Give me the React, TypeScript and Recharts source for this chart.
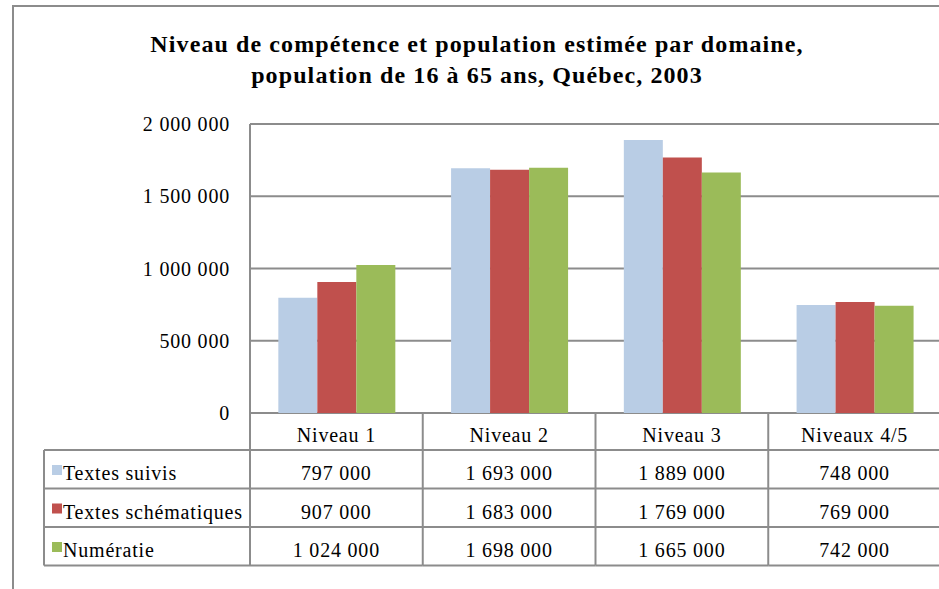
import React from "react";
import { BarChart, Bar, XAxis, YAxis, CartesianGrid } from "recharts";

// --- Data ---
const categories = ["Niveau 1", "Niveau 2", "Niveau 3", "Niveaux 4/5"];
const textesSuivis = [797000, 1693000, 1889000, 748000];
const textesSchematiques = [907000, 1683000, 1769000, 769000];
const numeratie = [1024000, 1698000, 1665000, 742000];
const seriesNames = ["Textes suivis", "Textes schématiques", "Numératie"];
const seriesColors = ["#B9CDE5", "#C0504D", "#9BBB59"];
const yTicks = [0, 500000, 1000000, 1500000, 2000000];

const data = categories.map((c, i) => ({
  cat: c,
  s0: textesSuivis[i],
  s1: textesSchematiques[i],
  s2: numeratie[i],
}));
const seriesValues = [textesSuivis, textesSchematiques, numeratie];

// --- Layout ---
const W = 960;
const H = 589;
const LEFT = 250;
const RIGHT = 19;
const TOP = 124;
const XH = 176;
const BAND = (W - LEFT - RIGHT) / categories.length;
const ROW0 = 37; // category row height
const ROW = 38.5;
const GRAY = "#8c8c8c";
const FONT = "Liberation Serif";

const fmt = (v: number) => String(v).replace(/\B(?=(\d{3})+(?!\d))/g, " ");

// table column drawn as the x axis tick
function TableTick(props: any) {
  const { x, y, payload } = props;
  const i = payload.index;
  const x0 = x - BAND / 2;
  const x1 = x + BAND / 2;
  const rows = [y + ROW0, y + ROW0 + ROW, y + ROW0 + 2 * ROW, y + ROW0 + 3 * ROW];
  const txt = { fontFamily: FONT, fontSize: 20, letterSpacing: 0.8, fill: "#000" };
  return (
    <g>
      <line x1={x1} x2={x1} y1={y} y2={rows[3]} stroke={GRAY} strokeWidth={2} />
      {i === 0 && <line x1={x0} x2={x0} y1={y} y2={rows[3]} stroke={GRAY} strokeWidth={2} />}
      {rows.map((ry, k) => (
        <line key={k} x1={x0} x2={x1} y1={ry} y2={ry} stroke={GRAY} strokeWidth={2} />
      ))}
      <text x={x} y={y + 29} textAnchor="middle" {...txt}>
        {payload.value}
      </text>
      {seriesValues.map((vals, k) => (
        <text key={k} x={x} y={rows[k] + 30} textAnchor="middle" {...txt}>
          {fmt(vals[i])}
        </text>
      ))}
      {i === 0 && (
        <g>
          <line x1={44} x2={44} y1={rows[0]} y2={rows[3]} stroke={GRAY} strokeWidth={2} />
          {rows.map((ry, k) => (
            <line key={k} x1={44} x2={x0} y1={ry} y2={ry} stroke={GRAY} strokeWidth={2} />
          ))}
          {seriesNames.map((n, k) => (
            <g key={n}>
              <rect x={52} y={rows[k] + 15} width={10} height={10} fill={seriesColors[k]} />
              <text x={63} y={rows[k] + 30} {...txt}>
                {n}
              </text>
            </g>
          ))}
        </g>
      )}
    </g>
  );
}

export default function App() {
  return (
    <div
      style={{
        position: "absolute",
        left: 0,
        top: 0,
        width: 939,
        height: 589,
        overflow: "hidden",
        background: "#fff",
      }}
    >
      <BarChart
        width={W}
        height={H}
        data={data}
        margin={{ top: TOP, right: RIGHT, left: 0, bottom: 0 }}
        barCategoryGap="16.4%"
        barGap={0}
      >
        <CartesianGrid vertical={false} stroke={GRAY} strokeWidth={2} />
        <XAxis
          dataKey="cat"
          height={XH}
          axisLine={false}
          tickLine={false}
          tickSize={0}
          tickMargin={0}
          interval={0}
          tick={<TableTick />}
        />
        <YAxis
          width={LEFT}
          domain={[0, 2000000]}
          ticks={yTicks}
          tickFormatter={fmt}
          axisLine={{ stroke: GRAY, strokeWidth: 2 }}
          tickLine={false}
          tickSize={0}
          tickMargin={20}
          tick={{ fontFamily: FONT, fontSize: 20, fill: "#000", letterSpacing: 0.8 }}
        />
        <Bar dataKey="s0" name={seriesNames[0]} fill={seriesColors[0]} isAnimationActive={false} />
        <Bar dataKey="s1" name={seriesNames[1]} fill={seriesColors[1]} isAnimationActive={false} />
        <Bar dataKey="s2" name={seriesNames[2]} fill={seriesColors[2]} isAnimationActive={false} />
      </BarChart>
      <svg
        width={939}
        height={589}
        style={{ position: "absolute", left: 0, top: 0, pointerEvents: "none" }}
      >
        <rect x={13} y={6} width={1000} height={700} fill="none" stroke={GRAY} strokeWidth={2} />
        <text
          x={477}
          y={52}
          textAnchor="middle"
          fontFamily={FONT}
          fontWeight="bold"
          fontSize={24}
          letterSpacing={1.1}
        >
          Niveau de compétence et population estimée par domaine,
        </text>
        <text
          x={477}
          y={83}
          textAnchor="middle"
          fontFamily={FONT}
          fontWeight="bold"
          fontSize={24}
          letterSpacing={1.1}
        >
          population de 16 à 65 ans, Québec, 2003
        </text>
      </svg>
    </div>
  );
}
